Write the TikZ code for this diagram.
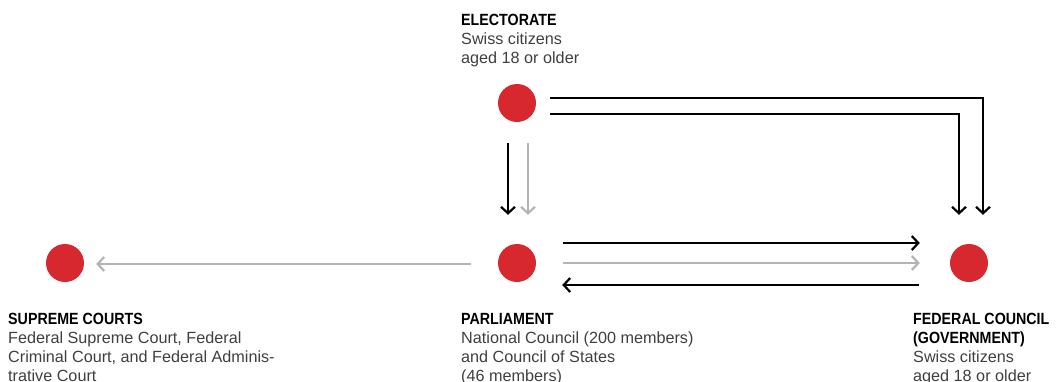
\documentclass[tikz,border=0pt]{standalone}
\usepackage{fontspec}
\setmainfont{Liberation Sans}[BoldFeatures={FakeStretch=0.88}]
\usetikzlibrary{arrows.meta}
\definecolor{dotred}{HTML}{D7282F}
\definecolor{lightgray}{HTML}{B4B4B4}
\definecolor{txtgray}{HTML}{3F3F3F}
\newcommand{\mylabel}[2]{\vtop{\baselineskip=19pt\lineskiplimit=-20pt\lineskip=0pt #1{\color{txtgray}#2}}}
\newcommand{\lline}[1]{\hbox{#1}}
\begin{document}
\begin{tikzpicture}[x=1pt,y=-1pt,
  dot/.style={circle,fill=dotred,minimum size=38pt,inner sep=0pt},
  lbl/.style={anchor=base west,inner sep=0pt,font=\fontsize{16.2pt}{19pt}\selectfont},
  conn/.style={line width=2.2pt,-{Straight Barb[length=6.5pt,width=14pt,line width=2.2pt]}},
  blk/.style={conn,draw=black},
  gry/.style={conn,draw=lightgray}]
\useasboundingbox (0,0) rectangle (1057,381);
\node[dot] (E) at (517,103) {};
\node[dot] (P) at (517,263) {};
\node[dot] (S) at (65,263) {};
\node[dot] (F) at (969,263) {};
\node[lbl] (tE) at (461,25) {\mylabel{\lline{\bfseries ELECTORATE}}{\lline{Swiss citizens}\lline{aged 18 or older}}};
\node[lbl] (tS) at (8,324) {\mylabel{\lline{\bfseries SUPREME COURTS}}{\lline{Federal Supreme Court, Federal}\lline{Criminal Court, and Federal Adminis-}\lline{trative Court}}};
\node[lbl] (tP) at (461,324) {\mylabel{\lline{\bfseries PARLIAMENT}}{\lline{National Council (200 members)}\lline{and Council of States}\lline{(46 members)}}};
\node[lbl] (tF) at (913,324) {\mylabel{\lline{\bfseries FEDERAL COUNCIL}\lline{\bfseries (GOVERNMENT)}}{\lline{Swiss citizens}\lline{aged 18 or older}}};
% electorate to federal council
\draw[blk] ([shift={(14,-5)}]E.east) -| ([shift={(14,-29)}]F.north);
\draw[blk] ([shift={(14,11)}]E.east) -| ([shift={(-10,-29)}]F.north);
% electorate to parliament
\draw[blk] ([shift={(-9,21)}]E.south) -- ([shift={(-9,-29)}]P.north);
\draw[gry] ([shift={(11,21)}]E.south) -- ([shift={(11,-29)}]P.north);
% parliament <-> federal council
\draw[blk] ([shift={(27,-20)}]P.east) -- ([shift={(-30,-20)}]F.west);
\draw[gry] ([shift={(27,0)}]P.east) -- ([shift={(-30,0)}]F.west);
\draw[blk] ([shift={(-31,22)}]F.west) -- ([shift={(26,22)}]P.east);
% parliament to supreme courts
\draw[gry] ([shift={(-27,1)}]P.west) -- ([shift={(12,1)}]S.east);
\end{tikzpicture}
\end{document}
